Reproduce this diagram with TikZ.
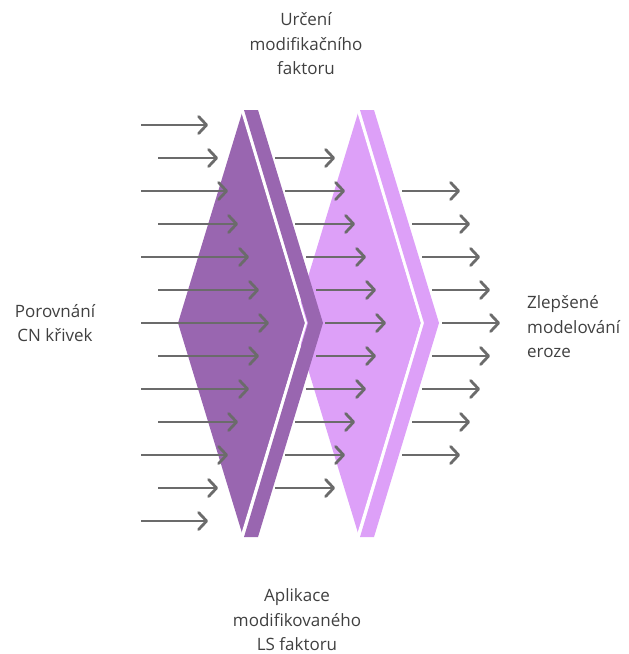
\documentclass[tikz,border=0pt]{standalone}
\usepackage{fontspec}
\setmainfont{Open Sans}
\usetikzlibrary{arrows.meta}
\definecolor{darkp}{HTML}{9966B0}
\definecolor{lightp}{HTML}{DDA0F8}
\definecolor{arrg}{HTML}{6B6B6B}
\definecolor{txt}{HTML}{404040}
\begin{document}
\begin{tikzpicture}[x=1pt,y=-1pt,
  arr/.style={draw=arrg, line width=2.8pt, -{Straight Barb[length=8pt,width=17pt,line width=2.8pt,line cap=round,line join=round]}},
  lbl/.style={text=txt, font=\fontsize{17}{24.5}\selectfont, inner sep=0pt},
  gap/.style={draw=white, line width=2pt, line join=round}]
\useasboundingbox (0,0) rectangle (629,654);
% second (light) chevron, behind
\fill[lightp] (360,110) -- (374,110) -- (439,323) -- (374,537) -- (360,537) -- (424,323) -- cycle;
\fill[lightp] (358,113) -- (294,323) -- (358,533) -- (421,323) -- cycle;
\draw[gap] (358,111) -- (422,323) -- (358,535);
% first (dark) chevron
\fill[darkp] (244,110) -- (258,110) -- (323,323) -- (258,537) -- (244,537) -- (308,323) -- cycle;
\fill[darkp] (242,113) -- (178,323) -- (242,533) -- (305,323) -- cycle;
\draw[gap] (242,111) -- (306,323) -- (242,535);
% left arrows
\foreach \i/\s/\e in {0/141/208,1/158/218,2/141/228,3/158/238,4/141/249,5/158/259,6/141/269,7/158/259,8/141/249,9/158/238,10/141/228,11/158/218,12/141/208}{
  \coordinate (ls\i) at (\s,125+33*\i);
  \coordinate (le\i) at (\e,125+33*\i);
  \draw[arr] (ls\i) -- (le\i);
}
% middle arrows
\foreach \i/\s/\e in {1/275/335,2/285/345,3/295/355,4/306/366,5/316/376,6/325/386,7/316/376,8/306/366,9/295/355,10/285/345,11/275/335}{
  \coordinate (ms\i) at (\s,125+33*\i);
  \coordinate (me\i) at (\e,125+33*\i);
  \draw[arr] (ms\i) -- (me\i);
}
% right arrows
\foreach \i/\s/\e in {2/402/460,3/412/470,4/422/480,5/432/490,6/442/500,7/432/490,8/422/480,9/412/470,10/402/460}{
  \coordinate (rs\i) at (\s,125+33*\i);
  \coordinate (re\i) at (\e,125+33*\i);
  \draw[arr] (rs\i) -- (re\i);
}
% labels
\node[lbl, align=center] (top) at (306,44) {Určení\\modifikačního\\faktoru};
\node[lbl, align=center] (left) at (55,323) {Porovnání\\CN křivek};
\node[lbl, align=left, anchor=west] (right) at (527,327) {Zlepšené\\modelování\\eroze};
\node[lbl, align=center] (bottom) at (297,620) {Aplikace\\modifikovaného\\LS faktoru};
\end{tikzpicture}
\end{document}
